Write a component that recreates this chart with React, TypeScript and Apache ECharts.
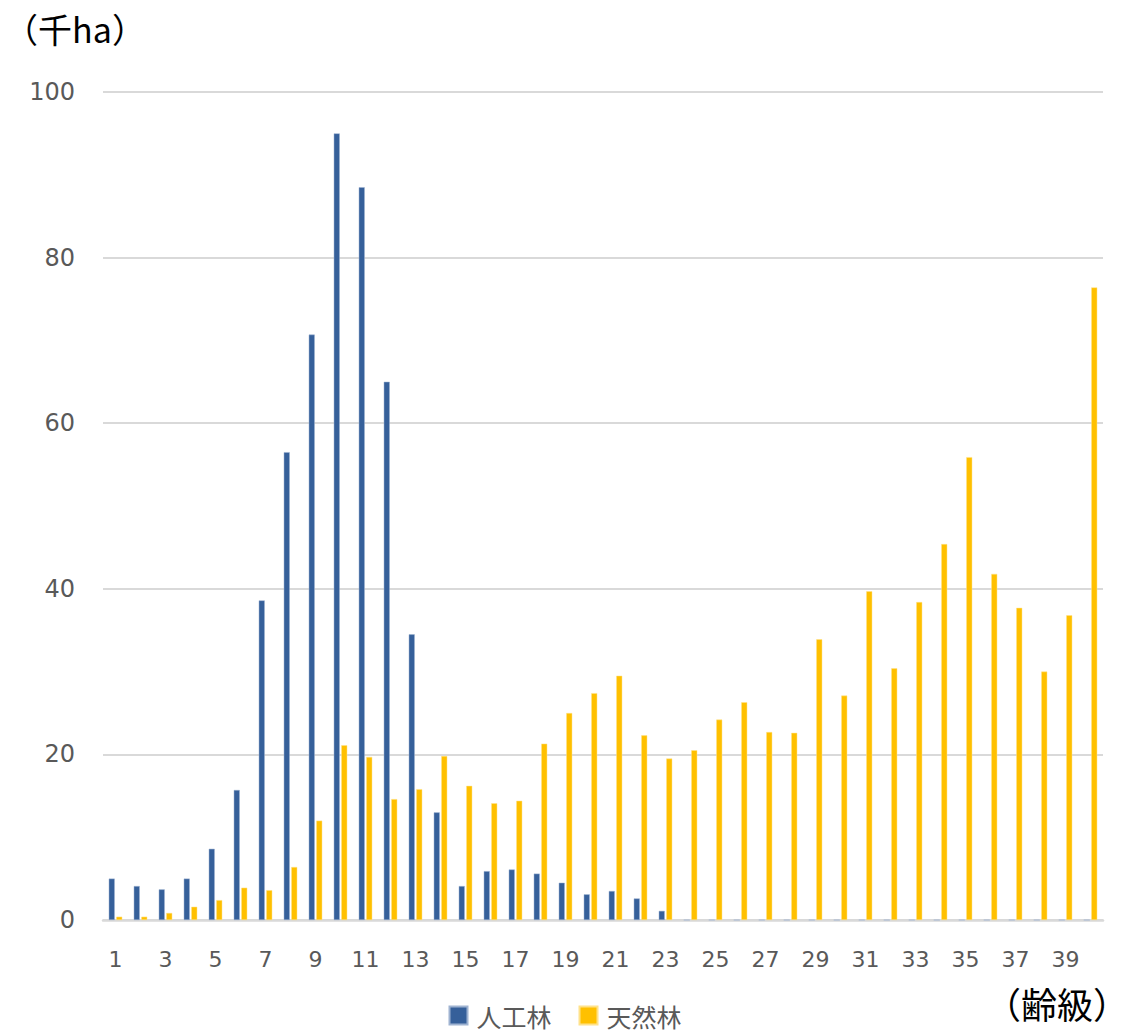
import React, { useEffect, useRef } from "react";
import * as echarts from "echarts";

const categories = Array.from({ length: 40 }, (_, i) => String(i + 1));
const plantedForest = [
  5.0, 4.1, 3.7, 5.0, 8.6, 15.7, 38.6, 56.5, 70.7, 95.0,
  88.5, 65.0, 34.5, 13.0, 4.1, 5.9, 6.1, 5.6, 4.5, 3.1,
  3.5, 2.6, 1.1, 0, 0, 0, 0, 0, 0, 0,
  0, 0, 0, 0, 0, 0, 0, 0, 0, 0,
];
const naturalForest = [
  0.4, 0.4, 0.85, 1.6, 2.4, 3.9, 3.6, 6.4, 12.0, 21.1,
  19.7, 14.6, 15.8, 19.8, 16.2, 14.1, 14.4, 21.3, 25.0, 27.4,
  29.5, 22.3, 19.5, 20.5, 24.2, 26.3, 22.7, 22.6, 33.9, 27.1,
  39.7, 30.4, 38.4, 45.4, 55.9, 41.8, 37.7, 30.0, 36.8, 76.4,
];
const seriesNames = ["人工林", "天然林"];
const yTicks = [0, 20, 40, 60, 80, 100];

export default function App() {
  const ref = useRef<HTMLDivElement>(null);
  useEffect(() => {
    if (!ref.current) return;
    const chart = echarts.init(ref.current, null, { renderer: "svg" });
    const labelFont = "'DejaVu Sans', Verdana, sans-serif";
    const cjkFont = "'Noto Sans CJK JP', sans-serif";
    chart.setOption({
      animation: false,
      backgroundColor: "#ffffff",
      grid: { left: 103, right: 27, top: 92, bottom: 115, containLabel: false },
      xAxis: {
        type: "category",
        data: categories,
        axisLine: { show: true, lineStyle: { color: "#d9d9d9", width: 2.5 } },
        axisTick: { show: false },
        axisLabel: {
          interval: 1,
          color: "#595959",
          fontSize: 22,
          fontFamily: labelFont,
          margin: 28,
        },
      },
      yAxis: {
        type: "value",
        min: yTicks[0],
        max: yTicks[yTicks.length - 1],
        interval: 20,
        axisLine: { show: false },
        axisTick: { show: false },
        splitLine: { lineStyle: { color: "#d9d9d9", width: 2 } },
        axisLabel: {
          color: "#595959",
          fontSize: 24,
          fontFamily: labelFont,
          margin: 28,
        },
      },
      legend: {
        bottom: 7,
        padding: 0,
        left: "center",
        itemWidth: 18,
        itemHeight: 18,
        itemGap: 27,
        icon: "rect",
        textStyle: {
          color: "#595959",
          fontSize: 25,
          lineHeight: 25,
          fontFamily: cjkFont,
          padding: [0, 0, 0, 4],
        },
        data: seriesNames,
      },
      graphic: [
        {
          type: "text",
          x: 75,
          y: 28,
          style: {
            text: "（千ha）",
            fontSize: 34,
            fill: "#000",
            fontFamily: cjkFont,
            align: "center",
            verticalAlign: "middle",
          },
        },
        {
          type: "text",
          x: 1129,
          y: 1003,
          style: {
            text: "（齢級）",
            fontSize: 36,
            fill: "#000",
            fontFamily: cjkFont,
            align: "right",
            verticalAlign: "middle",
          },
        },
      ],
      series: [
        {
          name: seriesNames[0],
          type: "bar",
          data: plantedForest,
          barWidth: 6,
          barGap: "25%",
          itemStyle: { color: "#36609A", borderColor: "#9fb3d1", borderWidth: 0.5 },
        },
        {
          name: seriesNames[1],
          type: "bar",
          data: naturalForest,
          barWidth: 6,
          barGap: "25%",
          itemStyle: { color: "#FFC000", borderColor: "#ffe28a", borderWidth: 0.5 },
        },
      ],
    });
    return () => chart.dispose();
  }, []);
  return (
    <div
      ref={ref}
      style={{ position: "absolute", left: 0, top: 0, width: 1130, height: 1035 }}
    />
  );
}
